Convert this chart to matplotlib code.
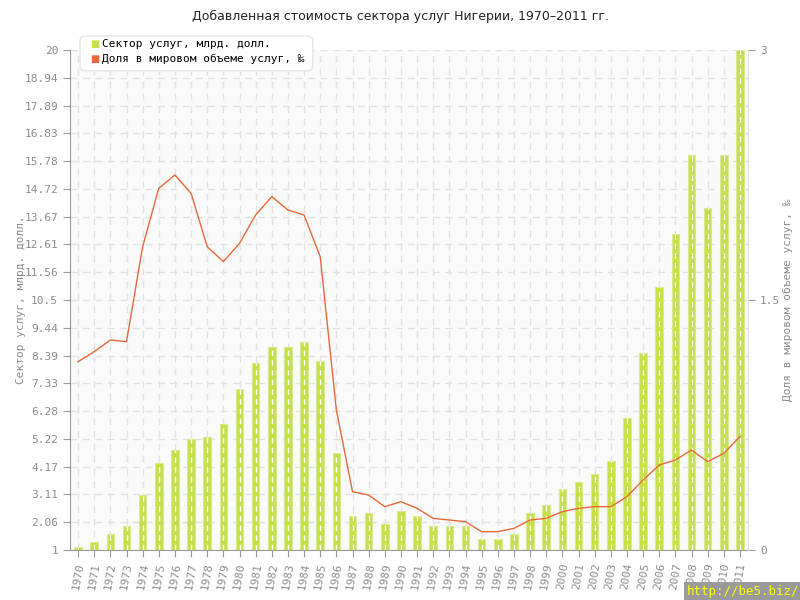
import numpy as np
import matplotlib
matplotlib.use("Agg")
from matplotlib import pyplot as plt
from matplotlib.patches import FancyBboxPatch

years = list(range(1970, 2012))
sector = [1.1, 1.3, 1.6, 1.9, 3.1, 4.3, 4.8, 5.2, 5.3, 5.8,
          7.1, 8.1, 8.7, 8.7, 8.9, 8.2, 4.7, 2.3, 2.4, 2.0,
          2.5, 2.3, 1.9, 1.9, 1.9, 1.4, 1.4, 1.6, 2.4, 2.7,
          3.3, 3.6, 3.9, 4.4, 6.0, 8.5, 11.0, 13.0, 16.0, 14.0,
          16.0, 20.0]
share = [1.13, 1.19, 1.26, 1.25, 1.82, 2.17, 2.25, 2.14, 1.82, 1.73,
         1.84, 2.01, 2.12, 2.04, 2.01, 1.76, 0.84, 0.35, 0.33, 0.26,
         0.29, 0.25, 0.19, 0.18, 0.17, 0.11, 0.11, 0.13, 0.18, 0.19,
         0.23, 0.25, 0.26, 0.26, 0.32, 0.42, 0.51, 0.54, 0.60, 0.53,
         0.58, 0.68]
left_ticks = [1, 2.06, 3.11, 4.17, 5.22, 6.28, 7.33, 8.39, 9.44, 10.5,
              11.56, 12.61, 13.67, 14.72, 15.78, 16.83, 17.89, 18.94, 20]
left_labels = ["1", "2.06", "3.11", "4.17", "5.22", "6.28", "7.33", "8.39", "9.44", "10.5",
               "11.56", "12.61", "13.67", "14.72", "15.78", "16.83", "17.89", "18.94", "20"]
right_ticks = [0, 1.5, 3]
right_labels = ["0", "1.5", "3"]

title = "Добавленная стоимость сектора услуг Нигерии, 1970–2011 гг."
label_bar = "Сектор услуг, млрд. долл."
label_line = "Доля в мировом объеме услуг, ‰"

green = "#c6e04a"
orange = "#e8683a"
grey = "#8c8c8c"
mono = ["DejaVu Sans Mono", "DejaVu Sans"]

fig = plt.figure(figsize=(8, 6), dpi=100)
ax = fig.add_axes([0.0875, 0.0833, 0.8475, 0.8334])
ax.set_facecolor("#fafafa")

ax.bar(years, [s - 1 for s in sector], bottom=1, width=0.47, color=green,
       edgecolor="#d8eb90", linewidth=0.8, zorder=2)
# white dashes over the bars
ax.vlines(years, 1, sector, colors="white", linestyles=(0, (4, 3)), linewidth=1, zorder=3)

ax.set_xlim(1969.5, 2011.5)
ax.set_ylim(1, 20)
ax.set_yticks(left_ticks)
ax.set_yticklabels(left_labels)
ax.set_xticks(years)
ax.set_xticklabels([str(y) for y in years], rotation=80, family=mono)
ax.grid(True, color="#e2e2e2", linestyle=(0, (5, 4)), linewidth=1, zorder=0)
ax.set_axisbelow(True)

for side in ["top", "right"]:
    ax.spines[side].set_visible(False)
ax.spines["left"].set_color("#999999")
ax.spines["bottom"].set_color("#999999")
ax.tick_params(axis="both", colors="#999999", labelcolor=grey, labelsize=8, length=5)
for t in ax.get_yticklabels():
    t.set_family(mono)
ax.set_ylabel(label_bar, color=grey, fontsize=8, family=mono, labelpad=-1)

ax2 = ax.twinx()
ax2.plot(years, share, color=orange, linewidth=1, zorder=4)
ax2.set_ylim(0, 3)
ax2.set_yticks(right_ticks)
ax2.set_yticklabels(right_labels, family=mono)
for side in ["top", "left", "bottom"]:
    ax2.spines[side].set_visible(False)
ax2.spines["right"].set_color("#dddddd")
ax2.tick_params(axis="y", colors="#999999", labelcolor=grey, labelsize=8, length=5)
ax2.set_ylabel(label_line, color=grey, fontsize=8, family=mono, labelpad=2)

fig.text(0.5, 0.972, title, ha="center", va="center", fontsize=9, color="#222222")

# legend box
box = FancyBboxPatch((0.103, 0.885), 0.285, 0.052, boxstyle="round,pad=0.003,rounding_size=0.008",
                     transform=fig.transFigure, facecolor="white", edgecolor="#e6e6e6",
                     linewidth=1, zorder=10)
fig.patches.append(box)
fig.text(0.113, 0.927, "■", color=green, fontsize=7, va="center", zorder=11)
fig.text(0.128, 0.927, label_bar, fontsize=8, family=mono, va="center", zorder=11)
fig.text(0.113, 0.901, "■", color=orange, fontsize=7, va="center", zorder=11)
fig.text(0.128, 0.901, label_line, fontsize=8, family=mono, va="center", zorder=11)

fig.text(0.999, 0.003, "http://be5.biz/", ha="right", va="bottom", color="#ffff00",
         fontsize=9, family=mono,
         bbox=dict(facecolor="#9a9a9a", edgecolor="none", pad=2))

fig.savefig("out.png", dpi=100)
